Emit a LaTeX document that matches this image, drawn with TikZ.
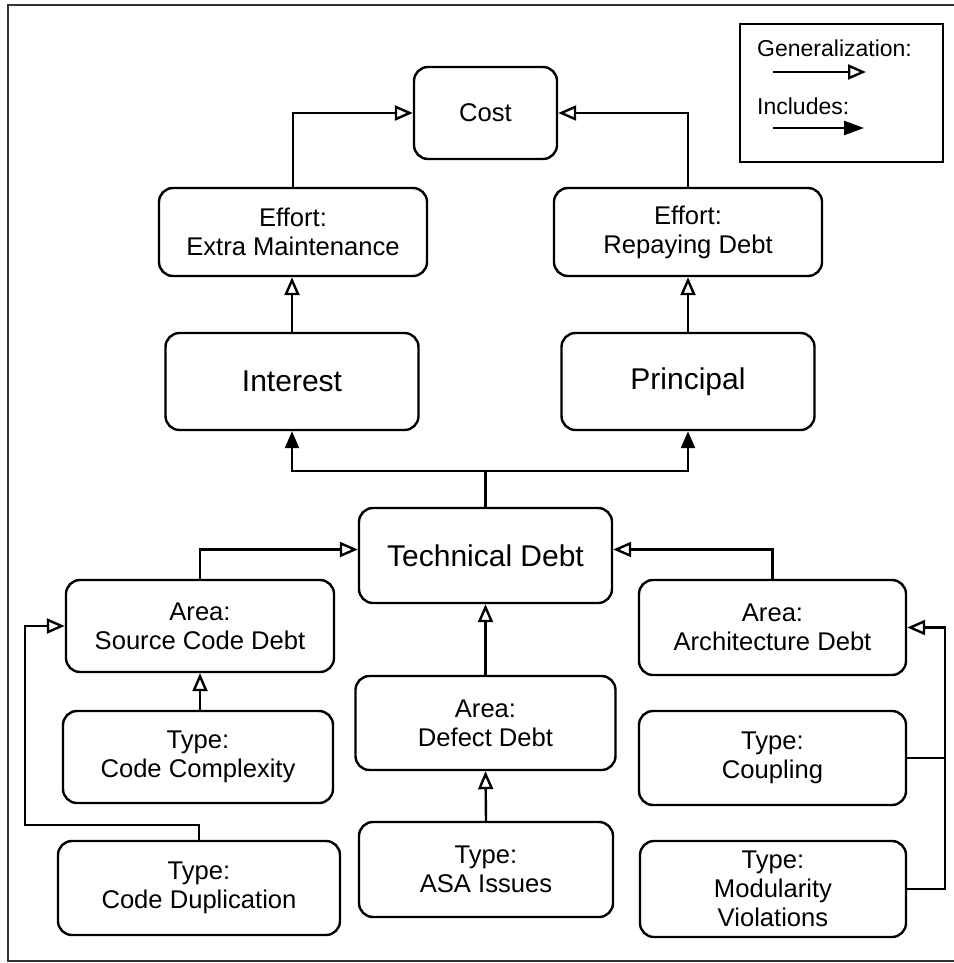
\documentclass[tikz,border=0pt]{standalone}
\usepackage{fontspec}
\setmainfont{Liberation Sans}
\usetikzlibrary{arrows.meta,calc}
\begin{document}
\begin{tikzpicture}[x=1pt,y=-1pt,
  box/.style={draw, line width=2.4pt, rounded corners=14pt, align=center, inner sep=0pt, font=\fontsize{25.6}{29}\selectfont},
  bigbox/.style={box, font=\fontsize{30}{34}\selectfont},
  conn/.style={line width=2.4pt},
  gen/.style={conn, -{Triangle[open, length=18pt, width=15pt, line width=2.4pt]}},
  inc/.style={conn, -{Triangle[length=17pt, width=14pt]}},
  legtext/.style={font=\fontsize{23}{26}\selectfont, inner sep=0pt, anchor=base west},
]
\useasboundingbox (0,0) rectangle (953,963);
% outer frame
\draw[line width=2pt, black!80] (960,5) -- (8,5) -- (8,961) -- (960,961);

% nodes
\node[box, minimum width=143pt, minimum height=92pt] (cost) at (485.5,113) {Cost};
\node[box, minimum width=268pt, minimum height=88pt] (extra) at (293,232) {Effort:\\Extra Maintenance};
\node[box, minimum width=268pt, minimum height=88pt] (repay) at (688,232) {Effort:\\Repaying Debt};
\node[bigbox, minimum width=253pt, minimum height=97pt] (interest) at (292,381.5) {Interest};
\node[bigbox, minimum width=253pt, minimum height=97pt] (principal) at (688,381.5) {Principal};
\node[bigbox, minimum width=253pt, minimum height=95pt] (tech) at (485.5,555.5) {Technical Debt};
\node[box, minimum width=268pt, minimum height=92pt] (source) at (200,626) {Area:\\Source Code Debt};
\node[box, minimum width=267pt, minimum height=95pt] (arch) at (772.5,627.5) {Area:\\Architecture Debt};
\node[box, minimum width=260pt, minimum height=94pt] (defect) at (485.5,723) {Area:\\Defect Debt};
\node[box, minimum width=270pt, minimum height=92pt] (complexity) at (198,757) {Type:\\Code Complexity};
\node[box, minimum width=282pt, minimum height=94pt] (duplication) at (199,888) {Type:\\Code Duplication};
\node[box, minimum width=254pt, minimum height=95pt] (asa) at (486,869.5) {Type:\\ASA Issues};
\node[box, minimum width=267pt, minimum height=94pt] (coupling) at (772.5,758) {Type:\\Coupling};
\node[box, minimum width=266pt, minimum height=96pt] (modularity) at (773,889) {Type:\\Modularity\\Violations};

% connectors
\draw[gen] (extra.north) |- (cost.west);
\draw[gen] (repay.north) |- (cost.east);
\draw[gen] (interest.north) -- (interest.north |- extra.south);
\draw[gen] (principal.north) -- (principal.north |- repay.south);
\coordinate (branch) at (485.5,471);
\draw[conn] (tech.north) -- (branch);
\draw[inc] (branch) -| (interest.south);
\draw[inc] (branch) -| (principal.south);
\draw[gen] (source.north) |- ([yshift=6pt]tech.west);
\draw[gen] (arch.north) |- ([yshift=6pt]tech.east);
\draw[gen] (complexity.north -| source.south) -- (source.south);
\coordinate (lj) at (25,825);
\draw[gen] (duplication.north) |- (lj) |- (source.west);
\draw[gen] (defect.north) -- (tech.south);
\draw[gen] (asa.north) -- (defect.south);
\coordinate (rj) at (945,889);
\draw[gen] (modularity.east) -- (rj) |- (arch.east);
\draw[conn] (coupling.east) -- (coupling.east -| rj);

% legend
\node[draw, line width=2.4pt, minimum width=203pt, minimum height=138pt, inner sep=0pt] (legend) at (841.5,93) {};
\node[legtext] (lgen) at (757,57) {Generalization:};
\node[legtext] (linc) at (757,115) {Includes:};
\coordinate (g1) at (773,72);
\coordinate (g2) at (866,72);
\coordinate (i1) at (773,128);
\coordinate (i2) at (864,128);
\draw[gen] (g1) -- (g2);
\draw[conn, -{Triangle[length=20pt, width=14pt]}] (i1) -- (i2);
\end{tikzpicture}
\end{document}
